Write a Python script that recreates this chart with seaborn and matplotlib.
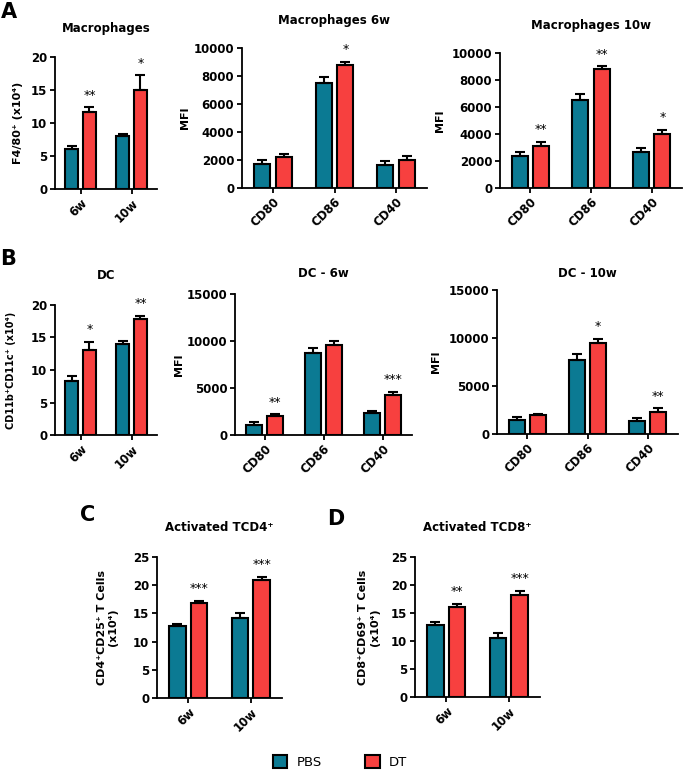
import matplotlib
matplotlib.use("Agg")
import matplotlib.pyplot as plt
from matplotlib.patches import Patch
import pandas as pd
import seaborn as sns

sns.set_style("ticks")
plt.rcParams["font.family"] = ["DejaVu Sans"]
plt.rcParams["font.weight"] = "bold"
plt.rcParams["axes.labelweight"] = "bold"
plt.rcParams["axes.titleweight"] = "bold"
for key in ["text.color", "axes.labelcolor", "xtick.color", "ytick.color", "axes.edgecolor"]:
    plt.rcParams[key] = "black"

W, H = 685, 777
PBS_COLOR = "#0b7a93"
DT_COLOR = "#f7403f"

weeks = ["6w", "10w"]
markers = ["CD80", "CD86", "CD40"]

# A - macrophages
mac_pbs = [6.0, 8.0]
mac_pbs_err = [0.5, 0.4]
mac_dt = [11.7, 15.0]
mac_dt_err = [0.7, 2.2]
mac_stars = ["**", "*"]

mac6_pbs = [1750, 7500, 1620]
mac6_pbs_err = [270, 430, 310]
mac6_dt = [2190, 8810, 1980]
mac6_dt_err = [260, 210, 330]
mac6_stars = ["", "*", ""]

mac10_pbs = [2380, 6510, 2650]
mac10_pbs_err = [250, 440, 300]
mac10_dt = [3120, 8850, 4000]
mac10_dt_err = [300, 170, 300]
mac10_stars = ["**", "**", "*"]

# B - dendritic cells
dc_pbs = [8.3, 14.0]
dc_pbs_err = [0.75, 0.5]
dc_dt = [13.0, 17.9]
dc_dt_err = [1.3, 0.45]
dc_stars = ["*", "**"]

dc6_pbs = [1100, 8680, 2290]
dc6_pbs_err = [330, 610, 250]
dc6_dt = [2070, 9570, 4290]
dc6_dt_err = [140, 430, 280]
dc6_stars = ["**", "", "***"]

dc10_pbs = [1480, 7690, 1340]
dc10_pbs_err = [280, 620, 280]
dc10_dt = [1930, 9520, 2340]
dc10_dt_err = [170, 410, 320]
dc10_stars = ["", "*", "**"]

# C / D - activated T cells
cd4_pbs = [12.7, 14.1]
cd4_pbs_err = [0.5, 1.0]
cd4_dt = [16.8, 21.0]
cd4_dt_err = [0.4, 0.5]
cd4_stars = ["***", "***"]

cd8_pbs = [12.9, 10.5]
cd8_pbs_err = [0.5, 1.0]
cd8_dt = [16.0, 18.3]
cd8_dt_err = [0.6, 0.7]
cd8_stars = ["**", "***"]

fig = plt.figure(figsize=(W / 100, H / 100), dpi=100)


def draw_panel(box, cats, pbs, pbs_err, dt, dt_err, stars, ymax, ystep,
               title, title_pad, ylabel, label_x, ylabel_size=8):
    left, top, right, bottom = box
    ax = fig.add_axes([left / W, 1 - bottom / H, (right - left) / W, (bottom - top) / H])
    df = pd.DataFrame({
        "group": cats * 2,
        "condition": ["PBS"] * len(cats) + ["DT"] * len(cats),
        "value": pbs + dt,
    })
    sns.barplot(data=df, x="group", y="value", hue="condition", order=cats,
                hue_order=["PBS", "DT"], palette={"PBS": PBS_COLOR, "DT": DT_COLOR},
                width=0.7, gap=0.25, saturation=1, edgecolor="black", linewidth=1.5,
                errorbar=None, legend=False, ax=ax)
    for cont, errs in zip(ax.containers, [pbs_err, dt_err]):
        xs = [p.get_x() + p.get_width() / 2 for p in cont]
        hs = [p.get_height() for p in cont]
        ax.errorbar(xs, hs, yerr=[[0] * len(errs), errs], fmt="none", ecolor="black",
                    elinewidth=1.5, capsize=3.5, capthick=1.5, zorder=1)
    dt_bars = ax.containers[1]
    for p, e, s in zip(dt_bars, dt_err, stars):
        if s:
            ax.annotate(s, (p.get_x() + p.get_width() / 2, p.get_height() + e),
                        xytext=(0, 4), textcoords="offset points", ha="center",
                        va="bottom", fontsize=9, fontweight="normal")
    ax.set_xlim(-0.5, len(cats) - 0.5)
    ax.set_ylim(0, ymax)
    ax.set_yticks(range(0, ymax + 1, ystep))
    ax.set_xlabel("")
    ax.set_ylabel(ylabel, fontsize=ylabel_size, fontweight="bold")
    ax.yaxis.set_label_coords(label_x, 0.5)
    ax.set_title(title, fontsize=8.5, fontweight="bold", pad=title_pad)
    sns.despine(ax=ax)
    for sp in ax.spines.values():
        sp.set_linewidth(1.3)
    ax.tick_params(axis="both", labelsize=8.5, width=1.3, length=3.5, pad=2)
    for lbl in ax.get_xticklabels():
        lbl.set_rotation(45)
        lbl.set_ha("right")
        lbl.set_rotation_mode("anchor")
        lbl.set_fontweight("bold")
    for lbl in ax.get_yticklabels():
        lbl.set_fontweight("bold")
    return ax


draw_panel((55, 57, 157, 189), weeks, mac_pbs, mac_pbs_err, mac_dt, mac_dt_err, mac_stars,
           20, 5, "Macrophages", 18, "F4/80⁺ (x10⁴)", -0.31)
draw_panel((242, 48, 427, 188), markers, mac6_pbs, mac6_pbs_err, mac6_dt, mac6_dt_err, mac6_stars,
           10000, 2000, "Macrophages 6w", 17, "MFI", -0.28)
draw_panel((500, 53, 682, 188), markers, mac10_pbs, mac10_pbs_err, mac10_dt, mac10_dt_err, mac10_stars,
           10000, 2000, "Macrophages 10w", 17, "MFI", -0.30)

draw_panel((55, 305, 157, 435), weeks, dc_pbs, dc_pbs_err, dc_dt, dc_dt_err, dc_stars,
           20, 5, "DC", 19, "CD11b⁺CD11c⁺ (x10⁴)", -0.38, ylabel_size=7)
draw_panel((235, 294, 412, 435), markers, dc6_pbs, dc6_pbs_err, dc6_dt, dc6_dt_err, dc6_stars,
           15000, 5000, "DC - 6w", 12, "MFI", -0.29)
draw_panel((497, 290, 678, 434), markers, dc10_pbs, dc10_pbs_err, dc10_dt, dc10_dt_err, dc10_stars,
           15000, 5000, "DC - 10w", 9.5, "MFI", -0.31)

draw_panel((157, 557, 282, 698), weeks, cd4_pbs, cd4_pbs_err, cd4_dt, cd4_dt_err, cd4_stars,
           25, 5, "Activated TCD4⁺", 19, "CD4⁺CD25⁺ T Cells\n(x10⁴)", -0.31)
draw_panel((415, 557, 540, 697), weeks, cd8_pbs, cd8_pbs_err, cd8_dt, cd8_dt_err, cd8_stars,
           25, 5, "Activated TCD8⁺", 19, "CD8⁺CD69⁺ T Cells\n(x10⁴)", -0.28)

for letter, x, y in [("A", 9, 12), ("B", 8, 259), ("C", 88, 515), ("D", 336, 519)]:
    fig.text(x / W, 1 - y / H, letter, fontsize=15, fontweight="bold", ha="center", va="center")

handles = [
    Patch(facecolor=PBS_COLOR, edgecolor="black", linewidth=1.5, label="PBS"),
    Patch(facecolor=DT_COLOR, edgecolor="black", linewidth=1.5, label="DT"),
]
fig.legend(handles=handles, loc="center", bbox_to_anchor=(340 / W, 1 - 762 / H), ncol=2,
           frameon=False, handlelength=1.1, handleheight=1.1, handletextpad=0.7,
           columnspacing=3.3, prop={"size": 9.5, "weight": "normal"})

fig.savefig("out.png", dpi=100)
